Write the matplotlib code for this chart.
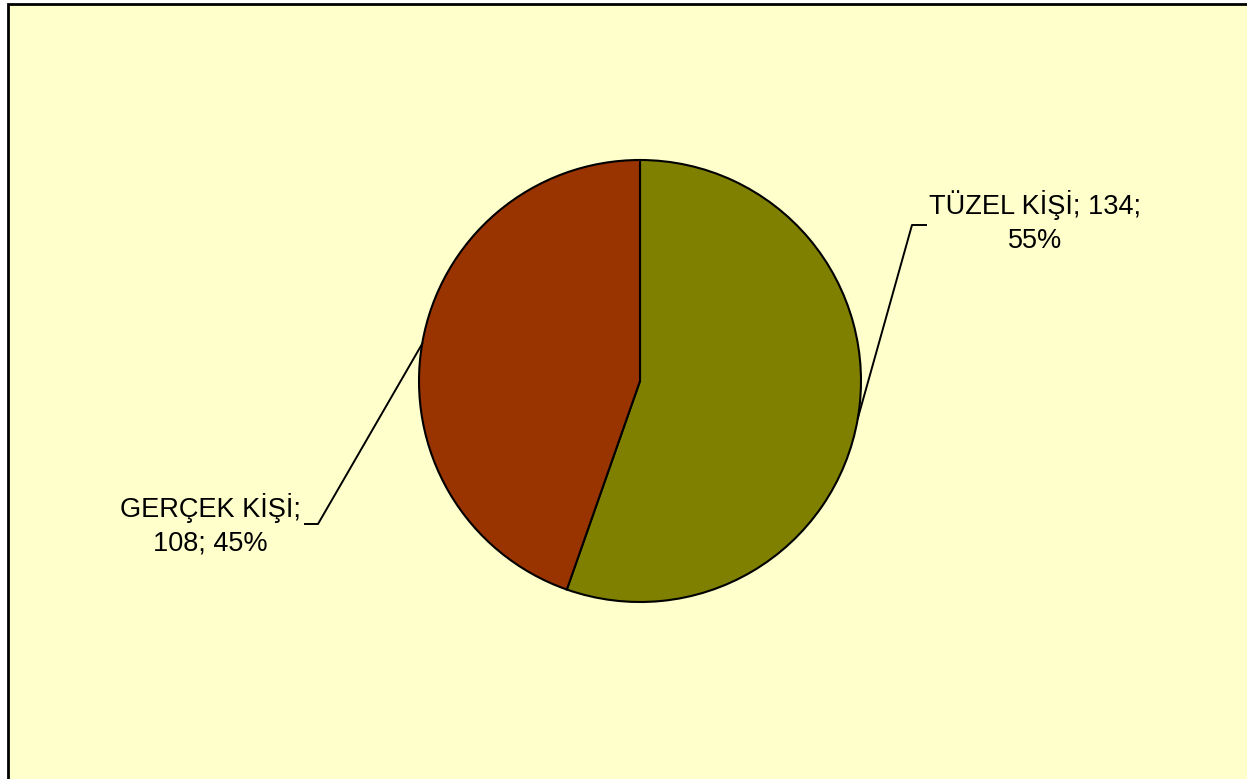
import numpy as np
import matplotlib
matplotlib.use("Agg")
from matplotlib import pyplot as plt
from matplotlib.patches import Rectangle

labels = ["TÜZEL KİŞİ", "GERÇEK KİŞİ"]
values = [134, 108]
colors = ["#808000", "#993300"]

W, H = 1247, 779
plt.rcParams['font.family'] = ['Liberation Sans', 'DejaVu Sans']

fig = plt.figure(figsize=(W / 100, H / 100), dpi=100)
fig.patch.set_facecolor("white")
ax = fig.add_axes([0, 0, 1, 1])

# chart area background and frame (runs off the bottom/right edges)
ax.add_patch(Rectangle((8, -10), W + 20, H - 4 + 10, facecolor="#FFFFCC",
                       edgecolor="black", linewidth=2, zorder=0))

cx, cy, r = 640, H - 381, 221
wedges, _ = ax.pie(values, colors=colors, startangle=90, counterclock=False,
                   center=(cx, cy), radius=r, frame=True,
                   wedgeprops=dict(edgecolor="black", linewidth=1.5))
ax.set_xlim(0, W)
ax.set_ylim(0, H)
ax.set_aspect("equal")
ax.axis("off")

total = sum(values)
pcts = [round(v / total * 100) for v in values]

# label layout: elbow of leader line, end of short tick, text centre
layout = [
    dict(elbow=(912, H - 225), end=(926, H - 225), text=(1035, H - 222),
         txt=f"{labels[0]}; {values[0]};\n{pcts[0]}%"),
    dict(elbow=(318, H - 524), end=(305, H - 524), text=(210, H - 525),
         txt=f"{labels[1]};\n{values[1]}; {pcts[1]}%"),
]

for w, lay in zip(wedges, layout):
    ang = np.deg2rad((w.theta1 + w.theta2) / 2)
    px, py = cx + r * np.cos(ang), cy + r * np.sin(ang)
    ex, ey = lay["elbow"]
    fx, fy = lay["end"]
    ax.plot([px, ex, fx], [py, ey, fy], color="black", linewidth=1.4, zorder=3)
    ax.text(lay["text"][0], lay["text"][1], lay["txt"], ha="center", va="center",
            fontsize=19.5, linespacing=1.4, color="black")

fig.savefig("out.png", dpi=100, facecolor=fig.get_facecolor())
